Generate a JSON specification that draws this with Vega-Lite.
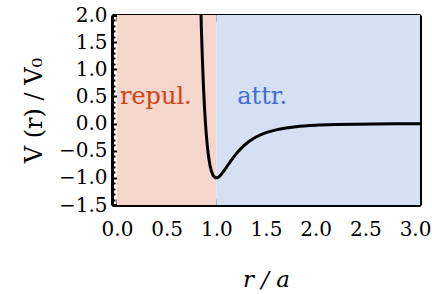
{
  "$schema": "https://vega.github.io/schema/vega-lite/v6.json",
  "width": 308,
  "height": 190,
  "autosize": {"type": "none"},
  "padding": {"left": 112, "top": 15, "right": 12, "bottom": 89},
  "background": "white",
  "config": {
    "font": "DejaVu Serif",
    "view": {"stroke": null},
    "axis": {"zindex": 1, "grid": false, "labelFont": "DejaVu Serif", "titleFont": "DejaVu Serif", "labelColor": "black", "titleColor": "black", "tickColor": "black", "domainColor": "black", "labelOverlap": false, "labelFlush": false, "labelBound": false}
  },
  "datasets": {
    "bg": [
      {"x0": 0, "x1": 1, "region": "repul."},
      {"x0": 1, "x1": 3.05, "region": "attr."}
    ],
    "curve": [
      {"r": 0.84, "V": 2.41},
      {"r": 0.85, "V": 1.727},
      {"r": 0.86, "V": 1.166},
      {"r": 0.87, "V": 0.706},
      {"r": 0.88, "V": 0.33},
      {"r": 0.89, "V": 0.024},
      {"r": 0.9, "V": -0.223},
      {"r": 0.91, "V": -0.421},
      {"r": 0.92, "V": -0.579},
      {"r": 0.93, "V": -0.702},
      {"r": 0.94, "V": -0.798},
      {"r": 0.95, "V": -0.87},
      {"r": 0.96, "V": -0.923},
      {"r": 0.97, "V": -0.96},
      {"r": 0.98, "V": -0.983},
      {"r": 0.99, "V": -0.996},
      {"r": 1.0, "V": -1.0},
      {"r": 1.02, "V": -0.988},
      {"r": 1.04, "V": -0.956},
      {"r": 1.06, "V": -0.913},
      {"r": 1.08, "V": -0.863},
      {"r": 1.1, "V": -0.81},
      {"r": 1.15, "V": -0.678},
      {"r": 1.2, "V": -0.558},
      {"r": 1.25, "V": -0.456},
      {"r": 1.3, "V": -0.372},
      {"r": 1.35, "V": -0.303},
      {"r": 1.4, "V": -0.248},
      {"r": 1.5, "V": -0.168},
      {"r": 1.6, "V": -0.116},
      {"r": 1.7, "V": -0.081},
      {"r": 1.8, "V": -0.058},
      {"r": 2.0, "V": -0.031},
      {"r": 2.2, "V": -0.0176},
      {"r": 2.4, "V": -0.0104},
      {"r": 2.6, "V": -0.0065},
      {"r": 2.8, "V": -0.0041},
      {"r": 3.0, "V": -0.0027},
      {"r": 3.05, "V": -0.0025}
    ],
    "labels": [
      {"r": 0.03, "V": 0.49, "text": "repul.", "region": "repul."},
      {"r": 1.21, "V": 0.49, "text": "attr.", "region": "attr."}
    ]
  },
  "resolve": {"axis": {"x": "independent", "y": "independent"}, "scale": {"color": "independent"}},
  "layer": [
    {
      "data": {"name": "bg"},
      "mark": {"type": "rect", "clip": true},
      "encoding": {
        "x": {"field": "x0", "type": "quantitative", "scale": {"domain": [-0.05, 3.05], "nice": false, "zero": false},
          "axis": {"orient": "bottom",
            "values": [0, 0.1, 0.2, 0.3, 0.4, 0.5, 0.6, 0.7, 0.8, 0.9, 1, 1.1, 1.2, 1.3, 1.4, 1.5, 1.6, 1.7, 1.8, 1.9, 2, 2.1, 2.2, 2.3, 2.4, 2.5, 2.6, 2.7, 2.8, 2.9, 3],
            "labelExpr": "abs(datum.value*2 - round(datum.value*2)) < 0.001 ? format(datum.value, '.1f') : ''",
            "tickSize": {"condition": {"test": "abs(datum.value*2 - round(datum.value*2)) < 0.001", "value": -6}, "value": -3},
            "tickWidth": 2, "domain": true, "domainWidth": 3, "labelFontSize": 20, "labelPadding": 20,
            "title": "r / a", "titleFontSize": 23, "titleFontStyle": "italic", "titleFontWeight": "normal", "titlePadding": 26}},
        "x2": {"field": "x1"},
        "y": {"datum": -1.5, "type": "quantitative", "scale": {"domain": [-1.5, 2], "nice": false, "zero": false},
          "axis": {"orient": "left",
            "values": [-1.5, -1.4, -1.3, -1.2, -1.1, -1, -0.9, -0.8, -0.7, -0.6, -0.5, -0.4, -0.3, -0.2, -0.1, 0, 0.1, 0.2, 0.3, 0.4, 0.5, 0.6, 0.7, 0.8, 0.9, 1, 1.1, 1.2, 1.3, 1.4, 1.5, 1.6, 1.7, 1.8, 1.9, 2],
            "labelExpr": "abs(datum.value*2 - round(datum.value*2)) < 0.001 ? format(datum.value, '.1f') : ''",
            "tickSize": {"condition": {"test": "abs(datum.value*2 - round(datum.value*2)) < 0.001", "value": -6}, "value": -3},
            "tickWidth": 2, "domain": true, "domainWidth": 3, "labelFontSize": 20, "labelPadding": 11,
            "title": "V (r) / V₀", "titleFontSize": 24, "titleFontWeight": "normal", "titlePadding": 12}},
        "y2": {"datum": 2},
        "color": {"field": "region", "type": "nominal", "scale": {"domain": ["repul.", "attr."], "range": ["#f4d6cc", "#d5e0f3"]}, "legend": null}
      }
    },
    {
      "mark": {"type": "rule", "color": "black", "strokeWidth": 1.5},
      "encoding": {
        "y": {"datum": 0, "type": "quantitative", "axis": null}
      }
    },
    {
      "data": {"name": "curve"},
      "mark": {"type": "line", "color": "black", "strokeWidth": 3, "clip": true, "interpolate": "monotone"},
      "encoding": {
        "x": {"field": "r", "type": "quantitative",
          "axis": {"orient": "top",
            "values": [0, 0.1, 0.2, 0.3, 0.4, 0.5, 0.6, 0.7, 0.8, 0.9, 1, 1.1, 1.2, 1.3, 1.4, 1.5, 1.6, 1.7, 1.8, 1.9, 2, 2.1, 2.2, 2.3, 2.4, 2.5, 2.6, 2.7, 2.8, 2.9, 3],
            "tickSize": {"condition": {"test": "abs(datum.value*2 - round(datum.value*2)) < 0.001", "value": -6}, "value": -3},
            "tickWidth": 2, "domainWidth": 3, "labels": false, "title": null}},
        "y": {"field": "V", "type": "quantitative",
          "axis": {"orient": "right",
            "values": [-1.5, -1.4, -1.3, -1.2, -1.1, -1, -0.9, -0.8, -0.7, -0.6, -0.5, -0.4, -0.3, -0.2, -0.1, 0, 0.1, 0.2, 0.3, 0.4, 0.5, 0.6, 0.7, 0.8, 0.9, 1, 1.1, 1.2, 1.3, 1.4, 1.5, 1.6, 1.7, 1.8, 1.9, 2],
            "tickSize": {"condition": {"test": "abs(datum.value*2 - round(datum.value*2)) < 0.001", "value": -6}, "value": -3},
            "tickWidth": 2, "domainWidth": 3, "labels": false, "title": null}}
      }
    },
    {
      "data": {"name": "labels"},
      "mark": {"type": "text", "align": "left", "baseline": "middle", "fontSize": 24, "font": "DejaVu Serif"},
      "encoding": {
        "x": {"field": "r", "type": "quantitative", "axis": null},
        "y": {"field": "V", "type": "quantitative", "axis": null},
        "text": {"field": "text"},
        "color": {"field": "region", "type": "nominal", "scale": {"domain": ["repul.", "attr."], "range": ["#cf4418", "#3f6fd3"]}, "legend": null}
      }
    }
  ]
}
